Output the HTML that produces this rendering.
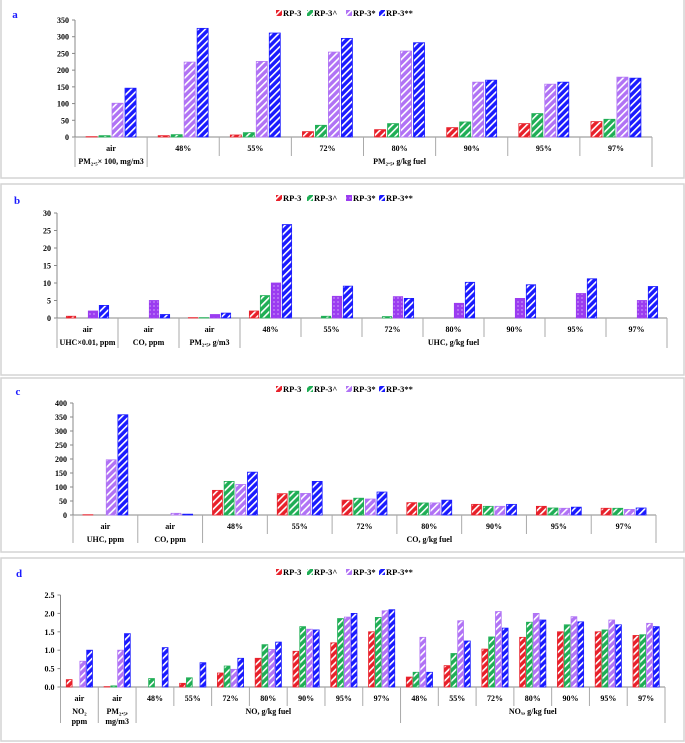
<!DOCTYPE html>
<html><head><meta charset="utf-8">
<style>
html,body{margin:0;padding:0;background:#fff;}
svg{display:block;font-family:"Liberation Serif",serif;font-weight:bold;}
</style></head>
<body>
<svg id="chart" width="685" height="743" viewBox="0 0 685 743" xmlns="http://www.w3.org/2000/svg">
<defs>
  <pattern id="h-red" patternUnits="userSpaceOnUse" width="5" height="5" patternTransform="rotate(45)"><rect width="5" height="5" fill="#e8202a"/><rect x="0" width="1.6" height="5" fill="#fff"/></pattern>
  <pattern id="h-green" patternUnits="userSpaceOnUse" width="5" height="5" patternTransform="rotate(45)"><rect width="5" height="5" fill="#1fae55"/><rect x="0" width="1.6" height="5" fill="#fff"/></pattern>
  <pattern id="h-purple" patternUnits="userSpaceOnUse" width="5" height="5" patternTransform="rotate(45)"><rect width="5" height="5" fill="#b072f5"/><rect x="0" width="1.6" height="5" fill="#fff"/></pattern>
  <pattern id="h-blue" patternUnits="userSpaceOnUse" width="5" height="5" patternTransform="rotate(45)"><rect width="5" height="5" fill="#1a1aff"/><rect x="0" width="1.6" height="5" fill="#fff"/></pattern>
  <pattern id="d-purple" patternUnits="userSpaceOnUse" width="4" height="4"><rect width="4" height="4" fill="#9b3cf0"/><rect x="1.5" y="1.5" width="1" height="1" fill="#fff"/></pattern>
</defs>
</svg>
<script>
// ---------- Panel a data ----------
const aCats = ["air","48%","55%","72%","80%","90%","95%","97%"];
const aRP3   = [1,4,6,16,22,28,40,46];
const aRP3c  = [4,7,13,35,40,45,70,53];
const aRP3s  = [101,224,226,254,257,164,158,179];
const aRP3ss = [146,325,311,295,282,170,164,176];
const aTicks = [0,50,100,150,200,250,300,350];
// ---------- Panel b data ----------
const bCats = ["air","air","air","48%","55%","72%","80%","90%","95%","97%"];
const bRP3   = [0.5,0,0.1,2,0,0,0,0,0,0];
const bRP3c  = [0,0,0.1,6.4,0.5,0.4,0,0,0,0];
const bRP3s  = [2,5,1,10,6.2,6.1,4.2,5.6,7,5];
const bRP3ss = [3.6,1,1.4,26.7,9.1,5.6,10.2,9.5,11.2,9];
const bTicks = [0,5,10,15,20,25,30];
// ---------- Panel c data ----------
const cCats = ["air","air","48%","55%","72%","80%","90%","95%","97%"];
const cRP3   = [1,0,88,76,53,44,38,31,24];
const cRP3c  = [0,0,120,85,60,43,31,25,24];
const cRP3s  = [197,6,109,77,57,43,31,24,20];
const cRP3ss = [358,3,153,120,82,53,38,28,25];
const cTicks = [0,50,100,150,200,250,300,350,400];
// ---------- Panel d data ----------
const dCats = ["air","air","48%","55%","72%","80%","90%","95%","97%","48%","55%","72%","80%","90%","95%","97%"];
const dRP3   = [0.2,0.01,0,0.1,0.38,0.78,0.97,1.2,1.5,0.27,0.58,1.03,1.35,1.5,1.5,1.4];
const dRP3c  = [0,0.03,0.23,0.25,0.57,1.15,1.64,1.86,1.89,0.4,0.91,1.36,1.76,1.69,1.55,1.42];
const dRP3s  = [0.7,1.0,0,0,0.48,1.02,1.57,1.9,2.07,1.35,1.8,2.05,2.0,1.91,1.82,1.73];
const dRP3ss = [1.0,1.45,1.07,0.66,0.78,1.22,1.55,2.0,2.1,0.4,1.25,1.6,1.82,1.77,1.69,1.64];
const dTicks = [0,0.5,1.0,1.5,2.0,2.5];
const seriesNames = ["RP-3","RP-3^","RP-3*","RP-3**"];

const svg = document.getElementById('chart');
const NS = "http://www.w3.org/2000/svg";
function mk(tag, attrs, parent){
  const e = document.createElementNS(NS, tag);
  for (const k in attrs) e.setAttribute(k, attrs[k]);
  (parent||svg).appendChild(e);
  return e;
}
function txt(s, x, y, size, anchor, parent, fill){
  const t = mk('text', {x:x, y:y, 'font-size':size, 'text-anchor':anchor||'middle', fill:fill||'#000'}, parent);
  t.textContent = s;
  return t;
}

function panel(P){
  const g = mk('g', {});
  
  
  const frame = mk('rect', {x:P.fx, y:P.fy, width:P.fw, height:P.fh, fill:'none', stroke:'#d4d4d4', 'stroke-width':1.5}, g);
  
  
  const lt = txt(P.id, P.lx, P.ly, 11, 'middle', g, '#1a1aff');
  
  

  const maxV = P.ticks[P.ticks.length-1];
  const yS = v => P.y0 - (v/maxV)*(P.y0 - P.yTop);
  const n = P.cats.length;
  const gw = (P.x1 - P.x0)/n;
  const xS = i => P.x0 + i*gw;

  // legend
  const fills = P.fills;
  const lg = mk('g', {}, g);
  
  
  const legX = [276, 307, 346, 379];
  for (let s=0; s<4; s++){
    const it = mk('g', {}, lg);
    
    
    mk('rect', {x:legX[s], y:P.legY-6, width:6, height:6, fill:fills[s]}, it);
    txt(seriesNames[s], legX[s]+7, P.legY, 8.5, 'start', it);
  }

  // y axis
  const ya = mk('g', {}, g);
  
  
  mk('line', {x1:P.x0, y1:yS(maxV), x2:P.x0, y2:P.y0, stroke:'#888', 'stroke-width':1}, ya);
  P.ticks.forEach(t => {
    mk('line', {x1:P.x0-3, y1:yS(t), x2:P.x0, y2:yS(t), stroke:'#888', 'stroke-width':1}, ya);
    const l = txt(P.fmt(t), P.x0-6, yS(t)+3, 8, 'end', ya);
    
    
  });
  // x axis
  const xa = mk('g', {}, g);
  
  
  mk('line', {x1:P.x0, y1:P.y0, x2:P.x1, y2:P.y0, stroke:'#888', 'stroke-width':1}, xa);
  for (let i=0;i<=n;i++){
    const big = P.bounds.indexOf(i) >= 0;
    mk('line', {x1:xS(i), y1:P.y0, x2:xS(i), y2:big ? P.yEnd : P.y0+19, stroke:'#aaa', 'stroke-width':1}, xa);
  }
  P.cats.forEach((c,i) => {
    const l = txt(c, xS(i)+gw/2, P.y0+14, 8, 'middle', xa);
    
    
  });
  P.groups.forEach(gr => {
    const cx = (xS(gr[0]) + xS(gr[1]))/2;
    gr[2].forEach((line, k) => {
      const l = txt(line, cx, P.y0 + 27 + k*10, 8, 'middle', xa);
      
      
    });
  });

  // bars
  const step = gw*0.18, bw = step*0.85;
  const strokes = ['#e8202a','#1fae55', P.id==='b' ? '#9b3cf0' : '#b072f5', '#1a1aff'];
  P.series.forEach((arr, s) => {
    arr.forEach((v, i) => {
      if (v <= 0) return;
      const bx = xS(i) + gw/2 - 2*step + s*step + (step-bw)/2;
      const b = mk('rect', {x:bx, y:yS(v), width:bw, height:P.y0 - yS(v), fill:fills[s], stroke:strokes[s], 'stroke-width':0.8}, g);
      
      
    });
  });
}

const hatch = ['url(#h-red)','url(#h-green)','url(#h-purple)','url(#h-blue)'];
panel({id:'a', fx:1, fy:-2, fw:683, fh:180, lx:15, ly:18, legY:16,
  x0:75, x1:652, yTop:20, y0:137, yEnd:167, ticks:aTicks, fmt:t=>String(t),
  cats:aCats, series:[aRP3,aRP3c,aRP3s,aRP3ss], fills:hatch, bounds:[0,1,8],
  groups:[[0,1,["PM\u2082.\u2085\u00d7 100, mg/m3"]],[1,8,["PM\u2082.\u2085,  g/kg fuel"]]]});
panel({id:'b', fx:1, fy:184, fw:683, fh:191, lx:17, ly:204, legY:201,
  x0:57, x1:667, yTop:213, y0:318, yEnd:348, ticks:bTicks, fmt:t=>String(t),
  cats:bCats, series:[bRP3,bRP3c,bRP3s,bRP3ss],
  fills:['url(#h-red)','url(#h-green)','url(#d-purple)','url(#h-blue)'], bounds:[0,1,2,3,10],
  groups:[[0,1,["UHC\u00d70.01,  ppm"]],[1,2,["CO,  ppm"]],[2,3,["PM\u2082.\u2085, g/m3"]],[3,10,["UHC, g/kg fuel"]]]});
panel({id:'c', fx:1, fy:378, fw:683, fh:174, lx:18, ly:395, legY:392,
  x0:73, x1:656, yTop:403, y0:515, yEnd:543, ticks:cTicks, fmt:t=>String(t),
  cats:cCats, series:[cRP3,cRP3c,cRP3s,cRP3ss], fills:hatch, bounds:[0,1,2,9],
  groups:[[0,1,["UHC, ppm"]],[1,2,["CO, ppm"]],[2,9,["CO, g/kg fuel"]]]});
panel({id:'d', fx:1, fy:558, fw:683, fh:183, lx:19, ly:577, legY:575,
  x0:60.5, x1:665, yTop:595, y0:687, yEnd:723, ticks:dTicks, fmt:t=>t.toFixed(1),
  cats:dCats, series:[dRP3,dRP3c,dRP3s,dRP3ss], fills:hatch, bounds:[0,1,2,9,16],
  groups:[[0,1,["NO\u2082","ppm"]],[1,2,["PM\u2082.\u2085,","mg/m3"]],[2,9,["NO, g/kg fuel"]],[9,16,["NO\u2093, g/kg fuel"]]]});
</script>
</body></html>
